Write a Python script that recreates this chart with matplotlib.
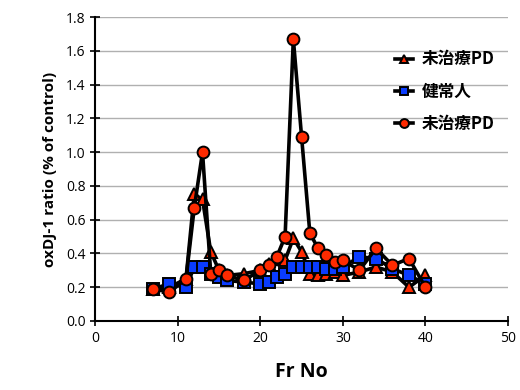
import matplotlib
matplotlib.use("Agg")
import matplotlib.pyplot as plt

fr = [7, 9, 11, 12, 13, 14, 15, 16, 18, 20, 21, 22, 23, 24, 25, 26, 27, 28, 29, 30, 32, 34, 36, 38, 40]
pd_tri = [0.19, 0.20, 0.25, 0.75, 0.72, 0.41, 0.30, 0.27, 0.28, 0.30, 0.34, 0.37, 0.36, 0.49, 0.41,
          0.28, 0.27, 0.28, 0.29, 0.27, 0.29, 0.32, 0.29, 0.20, 0.27]
healthy = [0.19, 0.22, 0.20, 0.32, 0.32, 0.28, 0.26, 0.24, 0.23, 0.22, 0.23, 0.26, 0.28, 0.32, 0.32,
           0.32, 0.32, 0.31, 0.31, 0.32, 0.38, 0.37, 0.31, 0.27, 0.22]
pd_circ = [0.19, 0.17, 0.25, 0.67, 1.00, 0.28, 0.30, 0.27, 0.24, 0.30, 0.33, 0.38, 0.50, 1.67, 1.09,
           0.52, 0.43, 0.39, 0.35, 0.36, 0.30, 0.43, 0.33, 0.37, 0.20]
labels = ["未治療PD", "健常人", "未治療PD"]

plt.rcParams['font.family'] = ['Open Sans', 'Noto Sans CJK JP', 'DejaVu Sans']

fig = plt.figure(figsize=(5.2, 3.9), dpi=100)
ax = fig.add_axes([0.183, 0.177, 0.794, 0.779])

common = dict(color='black', linewidth=2.6, markeredgecolor='black', markeredgewidth=1.4)
ax.plot(fr, pd_tri, marker='^', markersize=8.5, markerfacecolor='#ff2a00', label=labels[0], zorder=3, **common)
ax.plot(fr, healthy, marker='s', markersize=8, markerfacecolor='#0a3cff', label=labels[1], zorder=4, **common)
ax.plot(fr, pd_circ, marker='o', markersize=8.5, markerfacecolor='#ff2a00', label=labels[2], zorder=5, **common)

ax.set_xlim(0, 50)
ax.set_ylim(0, 1.8)
ax.set_xticks(range(0, 51, 10))
ax.set_yticks([i * 0.2 for i in range(10)])
ax.set_yticklabels([f"{i * 0.2:.1f}" for i in range(10)])
ax.yaxis.grid(True, color='#b0b0b0', linewidth=1.0)
ax.set_axisbelow(True)
for s in ['top', 'right']:
    ax.spines[s].set_visible(False)
for s in ['left', 'bottom']:
    ax.spines[s].set_linewidth(1.5)
ax.tick_params(axis='both', labelsize=10, width=1.2, direction='inout', length=7)

ax.set_xlabel("Fr No", fontsize=14, fontweight='bold', labelpad=12)
ax.set_ylabel("oxDJ-1 ratio (% of control)", fontsize=11, fontweight='bold', labelpad=6)

leg = ax.legend(loc='upper left', bbox_to_anchor=(0.69, 0.94), frameon=False,
                prop={'family': ['Noto Sans CJK JP', 'DejaVu Sans'], 'weight': 'bold', 'size': 12},
                handlelength=1.1, labelspacing=0.85, handletextpad=0.5, markerscale=0.75)

fig.savefig("out.png", dpi=100)
